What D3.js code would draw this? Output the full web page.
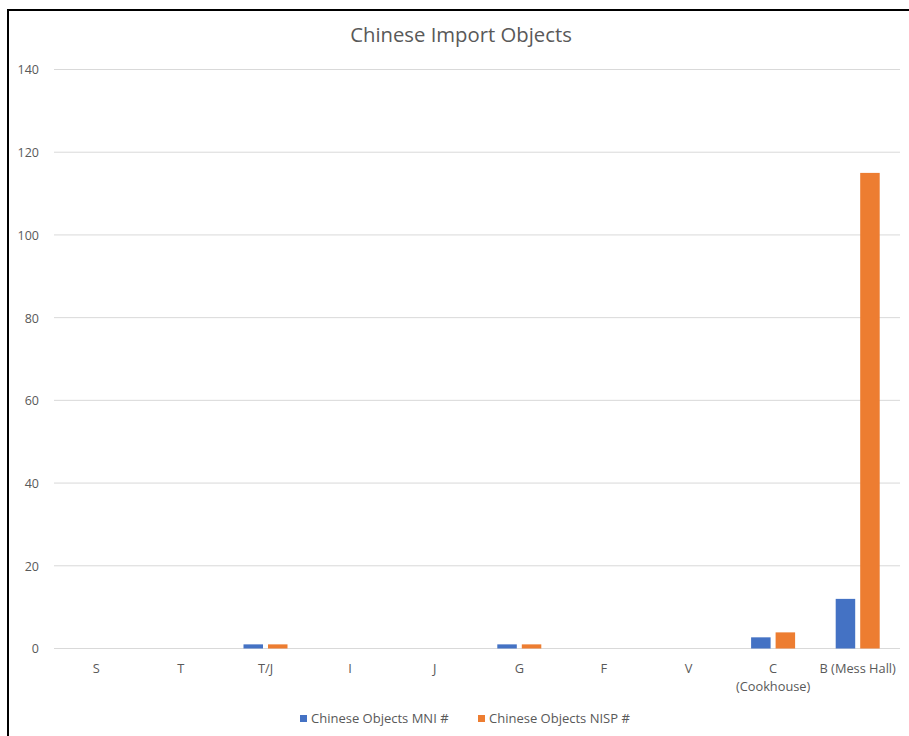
<!DOCTYPE html>
<html><head><meta charset="utf-8">
<script src="https://cdn.jsdelivr.net/npm/d3@7"></script>
<style>body{margin:0;background:#fff;} text{font-family:"Open Sans","Noto Sans",sans-serif;fill:#595959;}</style>
</head><body>
<svg id="c" width="909" height="736"></svg>
<script>
const categories = ["S","T","T/J","I","J","G","F","V","C\n(Cookhouse)","B (Mess Hall)"];
const mniValues = [0,0,1,0,0,1,0,0,2.7,12];
const nispValues = [0,0,1,0,0,1,0,0,3.9,115];
const seriesNames = ["Chinese Objects MNI #","Chinese Objects NISP #"];
const yTicks = [0,20,40,60,80,100,120,140];
const colors = ["#4472C4","#ED7D31"];

const svg = d3.select("#c");
svg.append("rect").attr("x",0).attr("y",0).attr("width",909).attr("height",736).attr("fill","#fff");
// frame
svg.append("line").attr("x1",8).attr("x2",8).attr("y1",9).attr("y2",736).attr("stroke","#000").attr("stroke-width",2);
svg.append("line").attr("x1",7).attr("x2",909).attr("y1",10).attr("y2",10).attr("stroke","#000").attr("stroke-width",2);

const x = d3.scaleBand().domain(categories).range([54,900]);
const y = d3.scaleLinear().domain([0,140]).range([648.5,69.5]);

// gridlines
svg.append("g").selectAll("line").data(yTicks).join("line")
  .attr("x1",54).attr("x2",900).attr("y1",d=>y(d)).attr("y2",d=>y(d))
  .attr("stroke","#d9d9d9").attr("stroke-width",1);

// y axis labels
const yAxis = d3.axisLeft(y).tickValues(yTicks).tickSize(0).tickPadding(0);
const yg = svg.append("g").attr("transform","translate(39,0)").call(yAxis);
yg.select(".domain").remove();
yg.selectAll("text").style("font-size","12.5px").attr("fill","#595959").attr("dy","0.35em");

// x axis labels
const xg = svg.append("g").attr("transform","translate(0,648.5)").call(d3.axisBottom(x).tickSize(0).tickPadding(0).tickFormat(""));
xg.select(".domain").remove();
xg.selectAll(".tick").each(function(d){
  const lines = d.split("\n");
  const t = d3.select(this).append("text").attr("text-anchor","middle").style("font-size","12.8px").attr("fill","#595959");
  lines.forEach((l,i)=>t.append("tspan").attr("x",0).attr("y",24+i*18).text(l));
});

// bars
const barW = 19.5, gap = 5;
const sub = d3.scaleOrdinal().domain([0,1]).range([-(gap/2+barW), gap/2]);
[mniValues,nispValues].forEach((vals,si)=>{
  svg.append("g").selectAll("rect").data(vals.map((v,i)=>({v,c:categories[i]}))).join("rect")
    .attr("x",d=>x(d.c)+x.bandwidth()/2+sub(si))
    .attr("width",barW)
    .attr("y",d=>y(d.v))
    .attr("height",d=>y(0)-y(d.v))
    .attr("fill",colors[si]);
});

// title
svg.append("text").attr("x",461).attr("y",42).attr("text-anchor","middle").style("font-size","20.3px").text("Chinese Import Objects");

// legend
const lg = svg.append("g");
const lx = [300,478];
seriesNames.forEach((n,i)=>{
  lg.append("rect").attr("x",lx[i]).attr("y",715).attr("width",7).attr("height",7).attr("fill",colors[i]);
  lg.append("text").attr("x",lx[i]+11).attr("y",723).style("font-size","13px").text(n);
});
</script>
</body></html>
